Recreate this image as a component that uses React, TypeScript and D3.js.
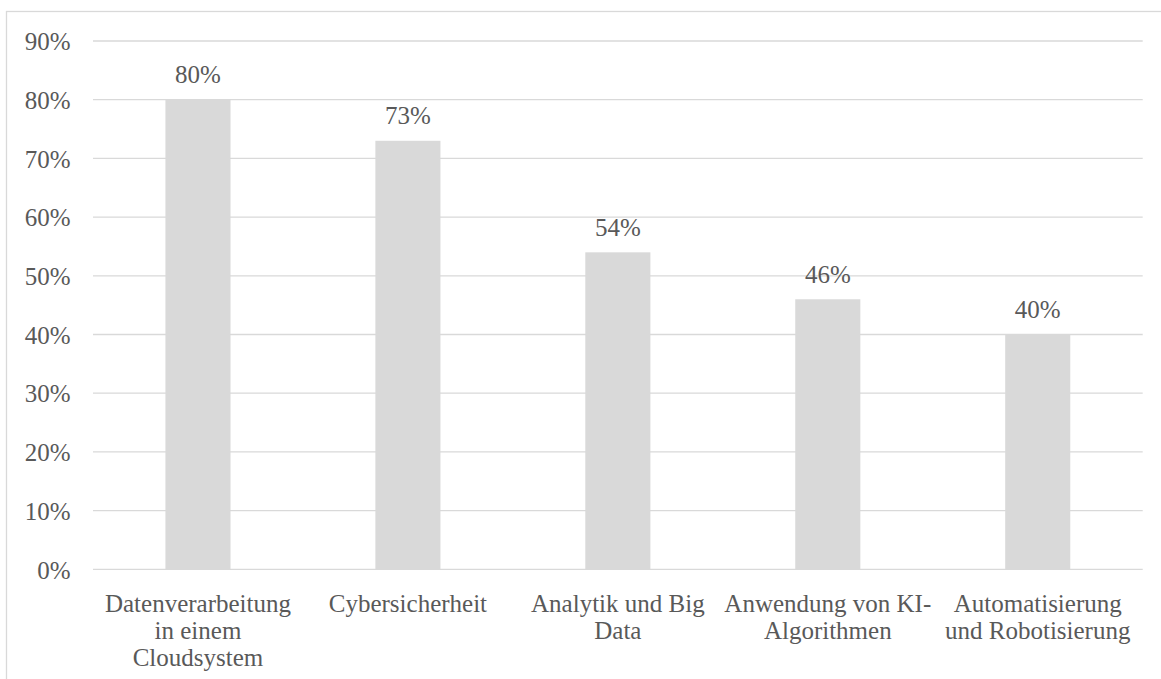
import React from "react";
import * as d3 from "d3";

// Share of respondents per technology area
const categories: string[][] = [
  ["Datenverarbeitung", "in einem", "Cloudsystem"],
  ["Cybersicherheit"],
  ["Analytik und Big", "Data"],
  ["Anwendung von KI-", "Algorithmen"],
  ["Automatisierung", "und Robotisierung"],
];
const values: number[] = [0.8, 0.73, 0.54, 0.46, 0.4];
const yTicks: number[] = [0, 0.1, 0.2, 0.3, 0.4, 0.5, 0.6, 0.7, 0.8, 0.9];

const W = 1161;
const H = 679;
const FONT = "'Liberation Serif', serif";
const TEXT = "#595959";
const GRID = "#d9d9d9";
const BAR = "#d9d9d9";

export default function App() {
  const left = 93;
  const right = 1142.7;
  const top = 41;
  const bottom = 569.3;

  const keys = categories.map((_, i) => String(i));
  const x = d3.scaleBand<string>().domain(keys).range([left, right]).paddingInner(0.69).paddingOuter(0.345);
  const y = d3.scaleLinear().domain([0, 0.9]).range([bottom, top]);
  const fmt = d3.format(".0%");
  const fs = 25;

  return (
    <svg width={W} height={H} style={{ position: "absolute", left: 0, top: 0, background: "#fff" }}>
      <rect x={6.5} y={11.5} width={W + 20} height={H + 20} fill="none" stroke={GRID} strokeWidth={1.3} />
      {yTicks.map((t) => (
        <g key={t}>
          <line x1={left} x2={right} y1={y(t)} y2={y(t)} stroke={GRID} strokeWidth={1.3} />
          <text x={70.7} y={y(t)} dy="0.37em" textAnchor="end" fontFamily={FONT} fontSize={fs} fill={TEXT}>
            {fmt(t)}
          </text>
        </g>
      ))}
      {values.map((v, i) => {
        const bx = x(String(i))!;
        const bw = x.bandwidth();
        return (
          <g key={i}>
            <rect x={bx} y={y(v)} width={bw} height={y(0) - y(v)} fill={BAR} />
            <text x={bx + bw / 2} y={y(v) - 16.5} textAnchor="middle" fontFamily={FONT} fontSize={fs} fill={TEXT}>
              {fmt(v)}
            </text>
          </g>
        );
      })}
      {categories.map((lines, i) => {
        const cx = x(String(i))! + x.bandwidth() / 2;
        return (
          <text key={i} textAnchor="middle" fontFamily={FONT} fontSize={fs} fill={TEXT}>
            {lines.map((l, j) => (
              <tspan key={j} x={cx} y={612 + j * 27}>
                {l}
              </tspan>
            ))}
          </text>
        );
      })}
    </svg>
  );
}
